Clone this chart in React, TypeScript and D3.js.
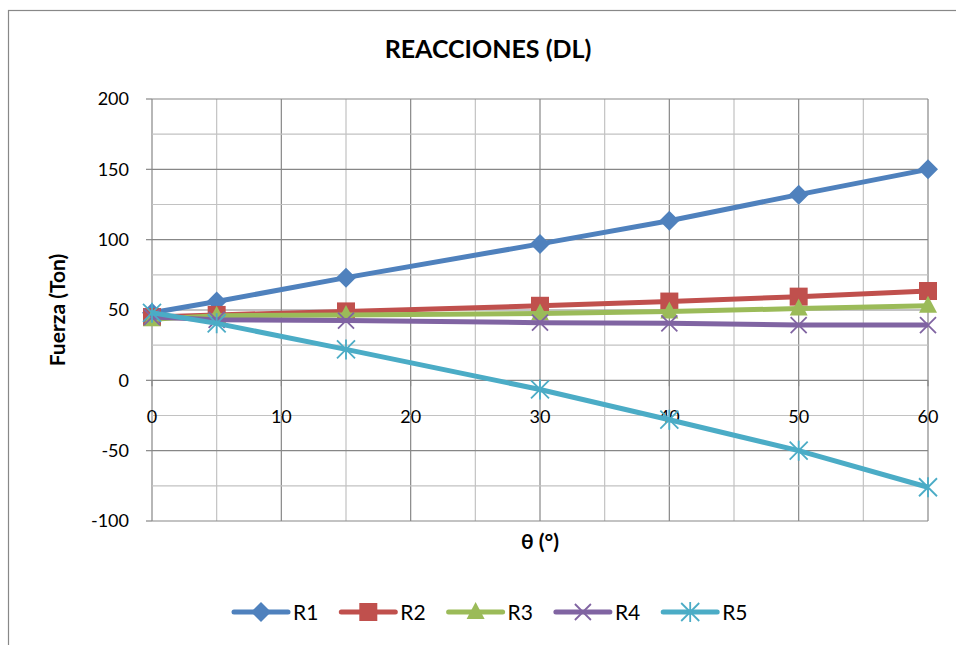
import React from 'react';
import { scaleLinear, line, range } from 'd3';

// theta (deg) and reactions (Ton)
const angles = [0, 5, 15, 30, 40, 50, 60];
const r1 = [48, 56, 73, 97, 113.5, 132, 150];
const r2 = [45, 46.5, 49, 53, 56, 59.5, 63.5];
const r3 = [43.5, 46, 46.5, 47.5, 49, 51, 53];
const r4 = [45, 43, 42.5, 41, 40.5, 39.3, 39.3];
const r5 = [48, 40.5, 22, -6.5, -28, -50, -76];
const seriesNames = ['R1', 'R2', 'R3', 'R4', 'R5'];
const colors = ['#4F81BD', '#C0504D', '#9BBB59', '#8064A2', '#4BACC6'];
const xTicks = [0, 10, 20, 30, 40, 50, 60];
const yTicks = [-100, -50, 0, 50, 100, 150, 200];

const FONT = 'Lato, "Open Sans", sans-serif';

const Marker = ({ kind, x, y, color }: { kind: number; x: number; y: number; color: string }) => {
  if (kind === 0) {
    const s = 10;
    return <path d={`M${x},${y - s}L${x + s},${y}L${x},${y + s}L${x - s},${y}Z`} fill={color} />;
  }
  if (kind === 1) {
    return <rect x={x - 9} y={y - 9} width={18} height={18} fill={color} />;
  }
  if (kind === 2) {
    return <path d={`M${x},${y - 10}L${x + 9},${y + 7}L${x - 9},${y + 7}Z`} fill={color} />;
  }
  if (kind === 3) {
    const s = 8;
    return (
      <path
        d={`M${x - s},${y - s}L${x + s},${y + s}M${x - s},${y + s}L${x + s},${y - s}`}
        stroke={color}
        strokeWidth={1.8}
      />
    );
  }
  const s = 9;
  return (
    <path
      d={`M${x - s},${y - s}L${x + s},${y + s}M${x - s},${y + s}L${x + s},${y - s}M${x},${y - s - 1}L${x},${y + s + 1}`}
      stroke={color}
      strokeWidth={1.8}
    />
  );
};

export default function App() {
  const x = scaleLinear().domain([0, 60]).range([152, 928]);
  const y = scaleLinear().domain([-100, 200]).range([521, 99]);
  const data = [r1, r2, r3, r4, r5];

  const path = line<number>()
    .x((_, i) => x(angles[i]))
    .y((d) => y(d));

  const vGrid = range(0, 61, 5);
  const hGrid = range(-100, 201, 25);

  return (
    <svg
      width={956}
      height={645}
      style={{ position: 'absolute', left: 0, top: 0, background: '#fff' }}
      fontFamily={FONT}
    >
      <rect x={8.5} y={10.5} width={1000} height={700} fill="#fff" stroke="#888" strokeWidth={1.2} />

      <text x={488} y={58} textAnchor="middle" fontSize={25} fontWeight="bold" fill="#000">
        REACCIONES (DL)
      </text>

      {/* grid */}
      {vGrid.map((v) => (
        <line
          key={'v' + v}
          x1={x(v)}
          x2={x(v)}
          y1={y(200)}
          y2={y(-100)}
          stroke={v % 10 === 0 ? '#878787' : '#c2c2c2'}
          strokeWidth={1.2}
        />
      ))}
      {hGrid.map((v) => (
        <line
          key={'h' + v}
          x1={x(0)}
          x2={x(60)}
          y1={y(v)}
          y2={y(v)}
          stroke={v % 50 === 0 ? '#878787' : '#c2c2c2'}
          strokeWidth={1.2}
        />
      ))}
      {yTicks.map((v) => (
        <line key={'t' + v} x1={x(0) - 6} x2={x(0)} y1={y(v)} y2={y(v)} stroke="#878787" strokeWidth={1.2} />
      ))}
      {xTicks.map((v) => (
        <line key={'xt' + v} x1={x(v)} x2={x(v)} y1={y(0)} y2={y(0) + 6} stroke="#878787" strokeWidth={1.2} />
      ))}

      {/* axis labels */}
      {yTicks.map((v) => (
        <text key={'yl' + v} x={129} y={y(v)} dy="0.35em" textAnchor="end" fontSize={18} fill="#000">
          {v}
        </text>
      ))}
      {xTicks.map((v) => (
        <text key={'xl' + v} x={x(v)} y={417} dy="0.35em" textAnchor="middle" fontSize={18} fill="#000">
          {v}
        </text>
      ))}

      <text
        transform={`translate(65,${(y(200) + y(-100)) / 2}) rotate(-90)`}
        textAnchor="middle"
        fontSize={21}
        fontWeight="bold"
      >
        Fuerza (Ton)
      </text>
      <text x={540} y={542} dy="0.35em" textAnchor="middle" fontSize={21} fontWeight="bold">
        θ (°)
      </text>

      {/* series */}
      {data.map((vals, k) => (
        <g key={seriesNames[k]}>
          <path d={path(vals) || ''} fill="none" stroke={colors[k]} strokeWidth={5} strokeLinejoin="round" />
          {vals.map((v, i) => (
            <Marker key={i} kind={k} x={x(angles[i])} y={y(v)} color={colors[k]} />
          ))}
        </g>
      ))}

      {/* legend */}
      {seriesNames.map((name, k) => {
        const lx = 234 + k * 107.3;
        return (
          <g key={'lg' + name}>
            <line x1={lx} x2={lx + 54} y1={612} y2={612} stroke={colors[k]} strokeWidth={5} strokeLinecap="round" />
            <Marker kind={k} x={lx + 27} y={612} color={colors[k]} />
            <text x={lx + 59} y={612} dy="0.36em" fontSize={21} fill="#000">
              {name}
            </text>
          </g>
        );
      })}
    </svg>
  );
}
